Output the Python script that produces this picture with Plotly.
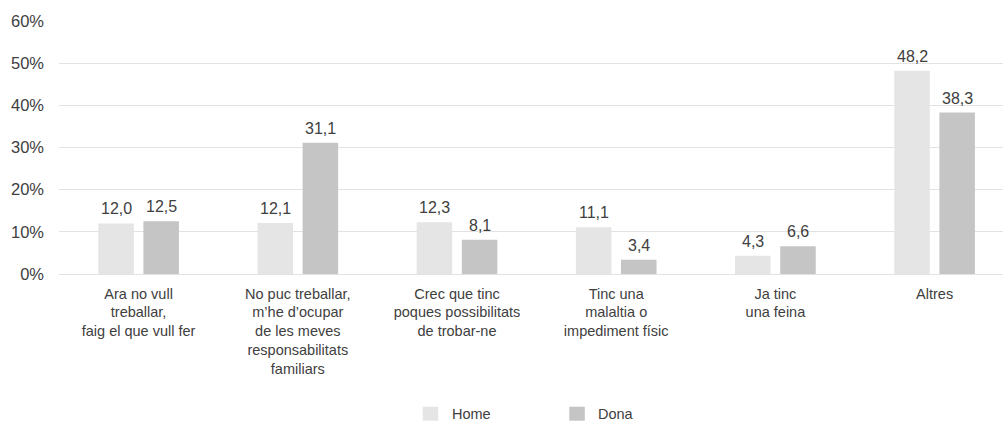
import plotly.graph_objects as go

categories = [
    "Ara no vull<br>treballar,<br>faig el que vull fer",
    "No puc treballar,<br>m’he d’ocupar<br>de les meves<br>responsabilitats<br>familiars",
    "Crec que tinc<br>poques possibilitats<br>de trobar-ne",
    "Tinc una<br>malaltia o<br>impediment físic",
    "Ja tinc<br>una feina",
    "Altres",
]
home = [12.0, 12.1, 12.3, 11.1, 4.3, 48.2]
dona = [12.5, 31.1, 8.1, 3.4, 6.6, 38.3]
series_names = ["Home", "Dona"]
y_ticks = [0, 10, 20, 30, 40, 50, 60]
y_ticklabels = [f"{v}%" for v in y_ticks]

colors = ["#e5e5e5", "#c5c5c5"]
text_color = "#404040"
font_family = "Liberation Sans, Arial, sans-serif"

W, H = 1003, 421
ML, MR, MT, MB = 59, 0, 21, 147
PW, PH = W - ML - MR, H - MT - MB

fig = go.Figure()
for name, vals, col in zip(series_names, [home, dona], colors):
    fig.add_trace(go.Bar(
        x=categories, y=vals, name=name, marker=dict(color=col, line=dict(width=0)),
        showlegend=False, hoverinfo="skip",
    ))

annotations = []
slot_px = 45.1
for i, vals in enumerate([home, dona]):
    shift = -slot_px / 2 if i == 0 else slot_px / 2
    for c, v in zip(categories, vals):
        annotations.append(dict(
            x=c, y=v, xref="x", yref="y", xshift=shift, yshift=4,
            text=f"{v:.1f}".replace(".", ","), showarrow=False,
            yanchor="bottom", xanchor="center",
            font=dict(size=16, color=text_color, family=font_family),
        ))

def px_x(p):
    return (p - ML) / PW

def px_y(p):
    return (H - MB - p) / PH

shapes = []
legend_items = [("Home", 422.7, 450), ("Dona", 569.3, 596)]
for (name, sx, tx), col in zip(legend_items, colors):
    shapes.append(dict(type="rect", xref="paper", yref="paper",
                       x0=px_x(sx), x1=px_x(sx + 15.5), y0=px_y(420.7), y1=px_y(406.7),
                       fillcolor=col, line=dict(width=0)))
    annotations.append(dict(x=px_x(tx), y=px_y(413.7), xref="paper", yref="paper",
                            text=name, showarrow=False, xanchor="left", yanchor="middle",
                            font=dict(size=14.5, color=text_color, family=font_family)))

fig.update_layout(
    width=W, height=H,
    margin=dict(l=ML, r=MR, t=MT, b=MB, pad=0),
    paper_bgcolor="white", plot_bgcolor="white",
    barmode="group", bargap=0.433, bargroupgap=0.213,
    font=dict(family=font_family, color=text_color, size=14.5),
    annotations=annotations, shapes=shapes,
    showlegend=False,
)
fig.update_xaxes(
    range=[-0.5, -0.5 + PW / 159.2], showgrid=False, showline=False, zeroline=False,
    ticks="", tickfont=dict(size=14.5, color=text_color), ticklabelstandoff=9,
    fixedrange=True,
)
fig.update_yaxes(
    range=[0, 60], tickvals=y_ticks, ticktext=y_ticklabels,
    showgrid=True, gridcolor="#e2e2e2", gridwidth=1.3,
    zeroline=True, zerolinecolor="#e2e2e2", zerolinewidth=1.3,
    showline=False, ticks="", ticklabelstandoff=14,
    tickfont=dict(size=16.5, color=text_color), fixedrange=True,
)

fig.write_html(
    "out.html",
    config={"displayModeBar": False},
    post_script="document.body.style.margin='0';document.body.style.padding='0';",
)
